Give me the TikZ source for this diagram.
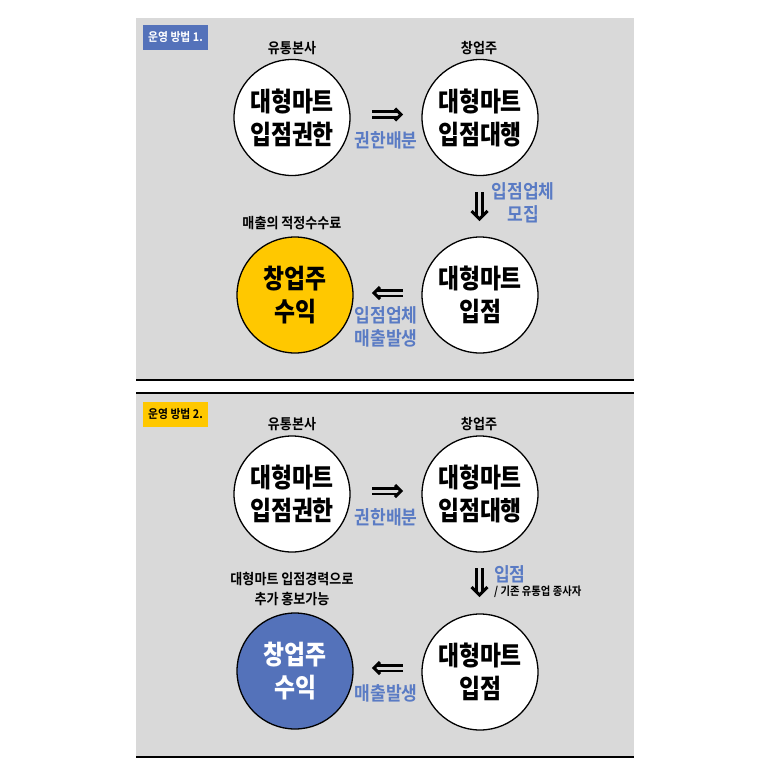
\documentclass[tikz,border=0pt]{standalone}
\usepackage{fontspec}
\setmainfont{Noto Sans CJK KR}[FakeStretch=0.9]
\newfontfamily\krblack{Noto Sans CJK KR Black}[FakeStretch=0.86]
\newfontfamily\krbold{Noto Sans CJK KR Bold}[FakeStretch=0.9]
\definecolor{bggray}{HTML}{D9D9D9}
\definecolor{mblue}{HTML}{5472BA}
\definecolor{lblue}{HTML}{5A7BC4}
\definecolor{myellow}{HTML}{FFC800}
\tikzset{
  circ/.style={circle, draw=black, line width=1.3pt, minimum size=116pt, inner sep=0pt, align=center,
    font=\krblack\fontsize{26.5}{33}\selectfont},
  small/.style={inner sep=0pt, font=\krbold\fontsize{14.5}{20}\selectfont, align=center},
  bluelab/.style={inner sep=0pt, text=lblue, font=\krbold\fontsize{19}{23}\selectfont, align=center},
  badge/.style={inner sep=0pt, minimum width=65pt, minimum height=25pt, font=\krbold\fontsize{12}{14}\selectfont},
  shaft/.style={line width=2.8pt, double=bggray, double distance=3pt, shorten >=3pt},
  chev/.style={line width=3pt, miter limit=10, line join=miter}
}
\begin{document}
\begin{tikzpicture}[x=1pt,y=-1pt]
\useasboundingbox (0,0) rectangle (769,758);
\fill[white] (0,0) rectangle (769,758);
% panels
\fill[bggray] (136,18) rectangle (634,380);
\fill[bggray] (136,393) rectangle (634,757);
\draw[line width=1.4pt] (136,380) -- (634,380);
\draw[line width=1.4pt] (136,393) -- (634,393);
\draw[line width=1.4pt] (136,757) -- (634,757);

% ===== Panel 1 =====
\node[badge, fill=mblue, text=white] (badge1) at (175.5,37.5) {운영 방법 1.};
\node[circ, fill=white] (a1) at (292,117.5) {대형마트\\입점권한};
\node[circ, fill=white] (b1) at (480,117.5) {대형마트\\입점대행};
\node[circ, fill=white] (c1) at (480,295) {대형마트\\입점};
\node[circ, fill=myellow] (d1) at (295,295) {창업주\\수익};
\node[small] (la1) at (292,48) {유통본사};
\node[small] (lb1) at (479,48) {창업주};
\node[small] (ld1) at (292,223) {매출의 적정수수료};
\node[bluelab] (t1) at (386,140) {권한배분};
\node[bluelab] (t2) at (523,203) {입점업체\\모집};
\node[bluelab] (t3) at (386,326.5) {입점업체\\매출발생};
\coordinate (p1s) at (372,114.5); \coordinate (p1e) at (401,114.5);
\coordinate (q1s) at (479.5,192); \coordinate (q1e) at (479.5,219);
\coordinate (r1s) at (403,293); \coordinate (r1e) at (374,293);
\draw[shaft] (p1s) -- (p1e);
\draw[chev] ([shift={(-6,-6)}]p1e) -- (p1e) -- ([shift={(-6,6)}]p1e);
\draw[shaft] (q1s) -- (q1e);
\draw[chev] ([shift={(-8,-8)}]q1e) -- (q1e) -- ([shift={(8,-8)}]q1e);
\draw[shaft] (r1s) -- (r1e);
\draw[chev] ([shift={(6,-6)}]r1e) -- (r1e) -- ([shift={(6,6)}]r1e);

% ===== Panel 2 =====
\node[badge, fill=myellow, text=black] (badge2) at (175.5,414) {운영 방법 2.};
\node[circ, fill=white] (a2) at (292,494) {대형마트\\입점권한};
\node[circ, fill=white] (b2) at (480,494) {대형마트\\입점대행};
\node[circ, fill=white] (c2) at (480,672) {대형마트\\입점};
\node[circ, fill=mblue, text=white] (d2) at (295,671) {창업주\\수익};
\node[small] (la2) at (292,424) {유통본사};
\node[small] (lb2) at (479,424) {창업주};
\node[small] (ld2) at (292,589) {대형마트 입점경력으로\\추가 홍보가능};
\node[bluelab] (u1) at (386,517) {권한배분};
\node[bluelab, anchor=west] (u2) at (494,574) {입점};
\node[small, anchor=west, font=\krbold\fontsize{11.5}{12}\selectfont] (u2b) at (494,592) {/ 기존 유통업 종사자};
\node[bluelab] (u3) at (386,693) {매출발생};
\coordinate (p2s) at (372,491); \coordinate (p2e) at (401,491);
\coordinate (q2s) at (479.5,568); \coordinate (q2e) at (479.5,595);
\coordinate (r2s) at (403,668); \coordinate (r2e) at (374,668);
\draw[shaft] (p2s) -- (p2e);
\draw[chev] ([shift={(-6,-6)}]p2e) -- (p2e) -- ([shift={(-6,6)}]p2e);
\draw[shaft] (q2s) -- (q2e);
\draw[chev] ([shift={(-8,-8)}]q2e) -- (q2e) -- ([shift={(8,-8)}]q2e);
\draw[shaft] (r2s) -- (r2e);
\draw[chev] ([shift={(6,-6)}]r2e) -- (r2e) -- ([shift={(6,6)}]r2e);
\end{tikzpicture}
\end{document}
